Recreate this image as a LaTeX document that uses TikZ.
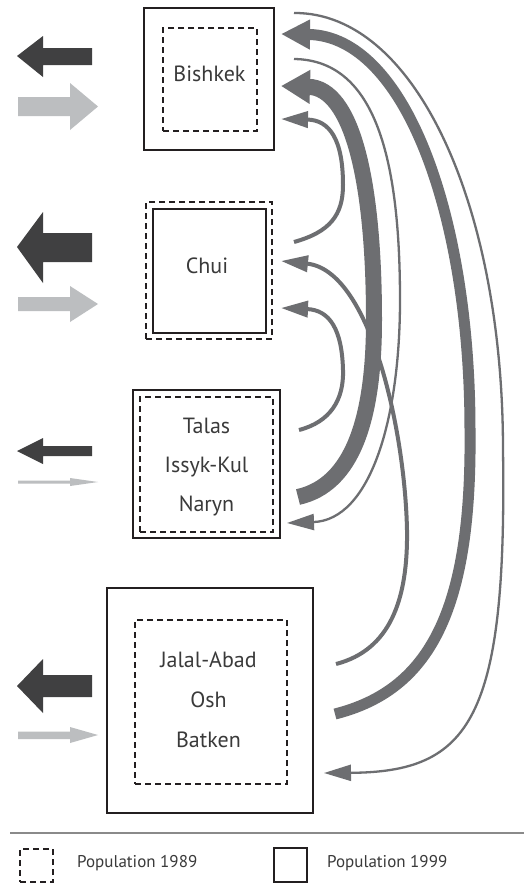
\documentclass[tikz,border=0pt]{standalone}
\usepackage{fontspec}
\setmainfont{PT Sans}
\usetikzlibrary{arrows.meta}
\definecolor{darkarr}{HTML}{404041}
\definecolor{lightarr}{HTML}{BCBEC0}
\definecolor{flow}{HTML}{6D6E71}
\definecolor{boxline}{HTML}{231F20}
\definecolor{txt}{HTML}{3A3A3A}
\definecolor{rulegray}{HTML}{8A8A8A}
\tikzset{
  solidbox/.style={draw=boxline, line width=1.4pt, inner sep=0pt, outer sep=0pt},
  dashbox/.style={draw=boxline, line width=1.2pt, dash pattern=on 6pt off 4pt, inner sep=0pt, outer sep=0pt},
  lbl/.style={text=txt, font=\fontsize{22}{26}\selectfont, anchor=base, inner sep=0pt},
  legtxt/.style={text=txt, font=\fontsize{17}{20}\selectfont, anchor=base west, inner sep=0pt},
  thinflow/.style={draw=flow, line width=2.3pt, -{Triangle[length=27pt,width=16pt]}},
  medflow/.style={draw=flow, line width=4pt, -{Triangle[length=27pt,width=16pt]}},
  thickflow/.style={draw=flow, line width=11pt, -{Triangle[length=29pt,width=28pt]}},
  thickestflow/.style={draw=flow, line width=16pt, -{Triangle[length=29pt,width=32pt]}},
  outarrow/.style={fill=darkarr},
  inarrow/.style={fill=lightarr}
}
\begin{document}
\begin{tikzpicture}[x=1pt,y=-1pt]
\useasboundingbox (0,0) rectangle (524,884);
\fill[white] (0,0) rectangle (524,884);

% boxes
\node[solidbox, minimum width=130pt, minimum height=142pt] (bish) at (209,79) {};
\node[dashbox, minimum width=94pt, minimum height=103pt] (bishin) at (210,79.5) {};
\node[lbl] (bisht) at (209.5,81) {Bishkek};

\node[dashbox, minimum width=126pt, minimum height=137pt] (chuiout) at (209,270.5) {};
\node[solidbox, line width=1.8pt, minimum width=113pt, minimum height=124pt] (chui) at (209.5,271) {};
\node[lbl] (chuit) at (207,273) {Chui};

\node[solidbox, minimum width=147pt, minimum height=148pt] (talas) at (206.5,464) {};
\node[dashbox, minimum width=133pt, minimum height=135pt] (talasin) at (206.5,464.5) {};
\node[lbl] (talast1) at (206.5,433) {Talas};
\node[lbl] (talast2) at (206.5,472) {Issyk-Kul};
\node[lbl] (talast3) at (206.5,511) {Naryn};

\node[solidbox, minimum width=206pt, minimum height=225pt] (jal) at (210,700.5) {};
\node[dashbox, minimum width=152pt, minimum height=164pt] (jalin) at (211,702) {};
\node[lbl] (jalt1) at (208.5,667) {Jalal-Abad};
\node[lbl] (jalt2) at (208.5,707) {Osh};
\node[lbl] (jalt3) at (208.5,747) {Batken};

% left migration arrows
\fill[outarrow] (17,56) -- (43,36) -- (43,48) -- (92,48) -- (92,65) -- (43,65) -- (43,77) -- cycle;
\fill[inarrow] (98,106.5) -- (70,83) -- (70,97) -- (18,97) -- (18,116) -- (70,116) -- (70,130) -- cycle;

\fill[outarrow] (17,247) -- (43,212) -- (43,233) -- (92,233) -- (92,262) -- (43,262) -- (43,283) -- cycle;
\fill[inarrow] (98,304) -- (70,286) -- (70,297) -- (18,297) -- (18,311) -- (70,311) -- (70,322) -- cycle;

\fill[outarrow] (17,451) -- (43,438) -- (43,446) -- (92,446) -- (92,456) -- (43,456) -- (43,464) -- cycle;
\fill[inarrow] (98,482) -- (70,478) -- (70,480.5) -- (18,480.5) -- (18,483.5) -- (70,483.5) -- (70,486) -- cycle;

\fill[outarrow] (17,686) -- (43,659) -- (43,675) -- (92,675) -- (92,697) -- (43,697) -- (43,713) -- cycle;
\fill[inarrow] (98,735) -- (70,727) -- (70,731.5) -- (18,731.5) -- (18,739) -- (70,739) -- (70,743) -- cycle;

% flow end points
\coordinate (c1s) at (294,13);  \coordinate (c1e) at (324,773);
\coordinate (c2s) at (335,714); \coordinate (c2e) at (281,34);
\coordinate (c3s) at (294,59);  \coordinate (c3e) at (287,523);
\coordinate (c4s) at (298,497); \coordinate (c4e) at (281,86);
\coordinate (c5s) at (294,242); \coordinate (c5e) at (281,119);
\coordinate (c6s) at (336,664); \coordinate (c6e) at (281,261);
\coordinate (c7s) at (299,430); \coordinate (c7e) at (281,308);

% flows
\draw[thickestflow] (c4s) .. controls (352,485) and (374,420) .. (374,320) .. controls (374,180) and (352,88) .. (c4e);
\draw[thickflow] (c2s) .. controls (430,690) and (472,610) .. (470,430) .. controls (470,215) and (405,36) .. (c2e);
\draw[thinflow] (c1s) .. controls (415,12) and (503,205) .. (503,450) .. controls (507,720) and (470,772) .. (c1e);
\draw[thinflow] (c3s) .. controls (372,60) and (400,150) .. (400,300) .. controls (400,420) and (370,520) .. (c3e);
\draw[medflow] (c5s) .. controls (330,232) and (343,215) .. (343,185) .. controls (343,140) and (330,120) .. (c5e);
\draw[medflow] (c6s) .. controls (390,650) and (408,600) .. (407,530) .. controls (405,430) and (370,270) .. (c6e);
\draw[medflow] (c7s) .. controls (330,422) and (344,400) .. (343,370) .. controls (342,330) and (330,310) .. (c7e);

% legend
\draw[rulegray, line width=1.2pt] (10,833) -- (524,833);
\node[dashbox, minimum width=33pt, minimum height=33pt] (leg89) at (36.5,865.5) {};
\node[legtxt] (leg89t) at (77,867) {Population 1989};
\node[solidbox, minimum width=33pt, minimum height=34pt] (leg99) at (290.5,865) {};
\node[legtxt] (leg99t) at (327,867) {Population 1999};
\end{tikzpicture}
\end{document}
